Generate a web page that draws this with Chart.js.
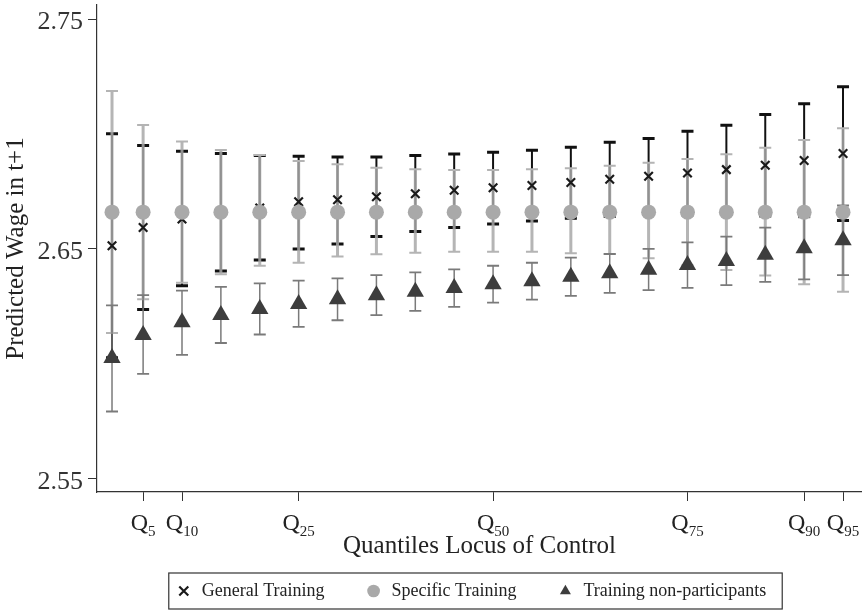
<!DOCTYPE html>
<html><head><meta charset="utf-8">
<script src="https://cdn.jsdelivr.net/npm/chart.js@4.4.1/dist/chart.umd.min.js"></script>
<style>html,body{margin:0;padding:0;background:#fff}#wrap{width:862px;height:611px}canvas{display:block}</style>
</head><body><div id="wrap"><canvas id="c" width="862" height="611"></canvas></div>
<script>
// ---------- data ----------
const quantiles = [1,5,10,15,20,25,30,35,40,45,50,55,60,65,70,75,80,85,90,95];
const tickQuantiles = [5,10,25,50,75,90,95];
const yTicks = [2.55,2.65,2.75];
const seriesNames = ['General Training','Specific Training','Training non-participants'];
const xTitle = 'Quantiles Locus of Control';
const yTitle = 'Predicted Wage in t+1';

const generalMean = [2.6514,2.6593,2.6630,2.6659,2.6678,2.6705,2.6714,2.6727,2.6740,2.6755,2.6766,2.6776,2.6789,2.6803,2.6816,2.6830,2.6845,2.6864,2.6885,2.6915];
const generalLow  = [2.6027,2.6237,2.6340,2.6404,2.6452,2.6500,2.6522,2.6554,2.6576,2.6593,2.6609,2.6622,2.6634,2.6641,2.6651,2.6648,2.6651,2.6643,2.6641,2.6624];
const generalHigh = [2.7001,2.6950,2.6925,2.6915,2.6907,2.6903,2.6900,2.6900,2.6907,2.6913,2.6921,2.6929,2.6942,2.6964,2.6980,2.7012,2.7038,2.7085,2.7132,2.7206];

const specificMean = [2.666,2.666,2.666,2.666,2.666,2.666,2.666,2.666,2.666,2.666,2.666,2.666,2.666,2.666,2.666,2.666,2.666,2.666,2.666,2.666];
const specificLow  = [2.6134,2.6281,2.6353,2.6390,2.6427,2.6440,2.6467,2.6477,2.6484,2.6488,2.6488,2.6488,2.6481,2.6478,2.6460,2.6429,2.6408,2.6385,2.6346,2.6314];
const specificHigh = [2.7187,2.7039,2.6967,2.6930,2.6909,2.6883,2.6868,2.6853,2.6847,2.6843,2.6843,2.6847,2.6851,2.6862,2.6875,2.6891,2.6912,2.6940,2.6974,2.7025];

const nonMean = [2.6026,2.6126,2.6181,2.6213,2.6239,2.6261,2.6281,2.6299,2.6314,2.6330,2.6347,2.6360,2.6379,2.6394,2.6410,2.6430,2.6448,2.6475,2.6503,2.6538];
const nonLow  = [2.5793,2.5957,2.6039,2.6091,2.6128,2.6161,2.6190,2.6212,2.6231,2.6248,2.6267,2.6280,2.6296,2.6309,2.6321,2.6331,2.6343,2.6357,2.6368,2.6386];
const nonHigh = [2.6255,2.6299,2.6319,2.6335,2.6350,2.6362,2.6372,2.6386,2.6398,2.6411,2.6427,2.6440,2.6462,2.6478,2.6500,2.6529,2.6554,2.6593,2.6638,2.6689];

// ---------- styling ----------
const FONT = '"Liberation Serif", "Times New Roman", serif';
Chart.defaults.font.family = FONT;
Chart.defaults.color = '#222';

const ciStyles = [
  {low: generalLow,  high: generalHigh,  color: '#111111', width: 2,   capColor: '#111111', capW: 12, capT: 3},
  {low: specificLow, high: specificHigh, color: 'rgba(168,168,168,0.85)', width: 3, capColor: '#b4b4b4', capW: 12, capT: 2},
  {low: nonLow,      high: nonHigh,      color: '#7a7a7a', width: 1.5, capColor: '#7a7a7a', capW: 12, capT: 1.8}
];

const errorBars = {
  id: 'errorBars',
  beforeDatasetsDraw(chart) {
    const ctx = chart.ctx, xs = chart.scales.x, ys = chart.scales.y;
    ciStyles.forEach(s => {
      ctx.save();
      quantiles.forEach((q, j) => {
        const x = xs.getPixelForValue(q);
        const y1 = ys.getPixelForValue(s.low[j]);
        const y2 = ys.getPixelForValue(s.high[j]);
        ctx.strokeStyle = s.color; ctx.lineWidth = s.width; ctx.lineCap = 'butt';
        ctx.beginPath(); ctx.moveTo(x, y1); ctx.lineTo(x, y2); ctx.stroke();
        ctx.strokeStyle = s.capColor; ctx.lineWidth = s.capT;
        ctx.beginPath();
        ctx.moveTo(x - s.capW/2, y1); ctx.lineTo(x + s.capW/2, y1);
        ctx.moveTo(x - s.capW/2, y2); ctx.lineTo(x + s.capW/2, y2);
        ctx.stroke();
      });
      ctx.restore();
    });
  }
};

const qLabels = {
  id: 'qLabels',
  afterDraw(chart) {
    const ctx = chart.ctx, xs = chart.scales.x;
    const baseY = xs.top + 38;
    ctx.save();
    ctx.fillStyle = '#222'; ctx.textAlign = 'left'; ctx.textBaseline = 'alphabetic';
    tickQuantiles.forEach(q => {
      const x = xs.getPixelForValue(q);
      const sub = String(q);
      ctx.font = '24px ' + FONT; const wQ = ctx.measureText('Q').width;
      ctx.font = '15px ' + FONT; const wS = ctx.measureText(sub).width;
      const x0 = x - (wQ + wS) / 2;
      ctx.font = '24px ' + FONT; ctx.fillText('Q', x0, baseY);
      ctx.font = '15px ' + FONT; ctx.fillText(sub, x0 + wQ, baseY + 6);
    });
    ctx.restore();
  }
};

// shift the legend slightly left (it is centred under the plot in the reference)
const legendShift = {
  id: 'legendShift',
  afterLayout(chart) {
    const lg = chart.legend;
    if (lg) { lg.left -= 9; lg.right -= 9; }
  }
};

const legendBox = {
  id: 'legendBox',
  afterDraw(chart) {
    const hb = chart.legend && chart.legend.legendHitBoxes;
    if (!hb || !hb.length) return;
    const ctx = chart.ctx;
    let l = Infinity, r = -Infinity;
    hb.forEach(h => { l = Math.min(l, h.left); r = Math.max(r, h.left + h.width); });
    const cy = hb[0].top + hb[0].height / 2;
    ctx.save();
    ctx.strokeStyle = '#333'; ctx.lineWidth = 1.2;
    ctx.strokeRect(l - 6, cy - 18, (r + 16) - (l - 6), 36);
    ctx.restore();
  }
};

function pts(vals) { return quantiles.map((q, i) => ({x: q, y: vals[i]})); }

new Chart(document.getElementById('c'), {
  type: 'scatter',
  data: {
    datasets: [
      {label: seriesNames[0], data: pts(generalMean), pointStyle: 'crossRot', pointRadius: 6,
       borderColor: '#1a1a1a', backgroundColor: '#1a1a1a', borderWidth: 2.2, order: 2},
      {label: seriesNames[1], data: pts(specificMean), pointStyle: 'circle', pointRadius: 7.5,
       borderColor: '#a9a9a9', backgroundColor: '#a9a9a9', borderWidth: 0, order: 1},
      {label: seriesNames[2], data: pts(nonMean), pointStyle: 'triangle', pointRadius: 10,
       borderColor: '#3d3d3d', backgroundColor: '#3d3d3d', borderWidth: 0, order: 0}
    ]
  },
  options: {
    responsive: false,
    animation: false,
    devicePixelRatio: 1,
    events: [],
    layout: {autoPadding: false, padding: {top: 5, left: 0, right: 0, bottom: 1}},
    scales: {
      x: {
        type: 'linear', min: -0.93, max: 97.44,
        afterBuildTicks: s => { s.ticks = tickQuantiles.map(v => ({value: v})); },
        afterFit: s => { s.height = 50; s.paddingLeft = 0; s.paddingRight = 0; },
        ticks: {display: false},
        grid: {display: true, drawOnChartArea: false, drawTicks: true, tickLength: 9, color: '#333', lineWidth: 1},
        border: {display: true, color: '#333', width: 1.2},
        title: {display: true, text: xTitle, color: '#222', font: {size: 25, family: FONT}, padding: {top: 0, bottom: -19.5}}
      },
      y: {
        type: 'linear', min: 2.5443, max: 2.7561,
        afterBuildTicks: s => { s.ticks = yTicks.map(v => ({value: v})); },
        afterFit: s => { s.width = 97; s.paddingTop = 0; s.paddingBottom = 0; },
        ticks: {color: '#333', font: {size: 26, family: FONT}, padding: 5, labelOffset: 3,
                callback: v => Number(v).toFixed(2)},
        grid: {display: true, drawOnChartArea: false, drawTicks: true, tickLength: 9, color: '#333', lineWidth: 1},
        border: {display: true, color: '#333', width: 1.2},
        title: {display: true, text: yTitle, color: '#222', font: {size: 25, family: FONT}, padding: {top: 1, bottom: 0}}
      }
    },
    plugins: {
      tooltip: {enabled: false},
      legend: {
        display: true, position: 'bottom', fullSize: false,
        labels: {usePointStyle: true, boxHeight: 9, padding: 40, color: '#222',
                 font: {size: 18, family: FONT},
                 sort: (a, b) => a.datasetIndex - b.datasetIndex}
      }
    }
  },
  plugins: [legendShift, errorBars, qLabels, legendBox]
});
</script>
</body></html>
